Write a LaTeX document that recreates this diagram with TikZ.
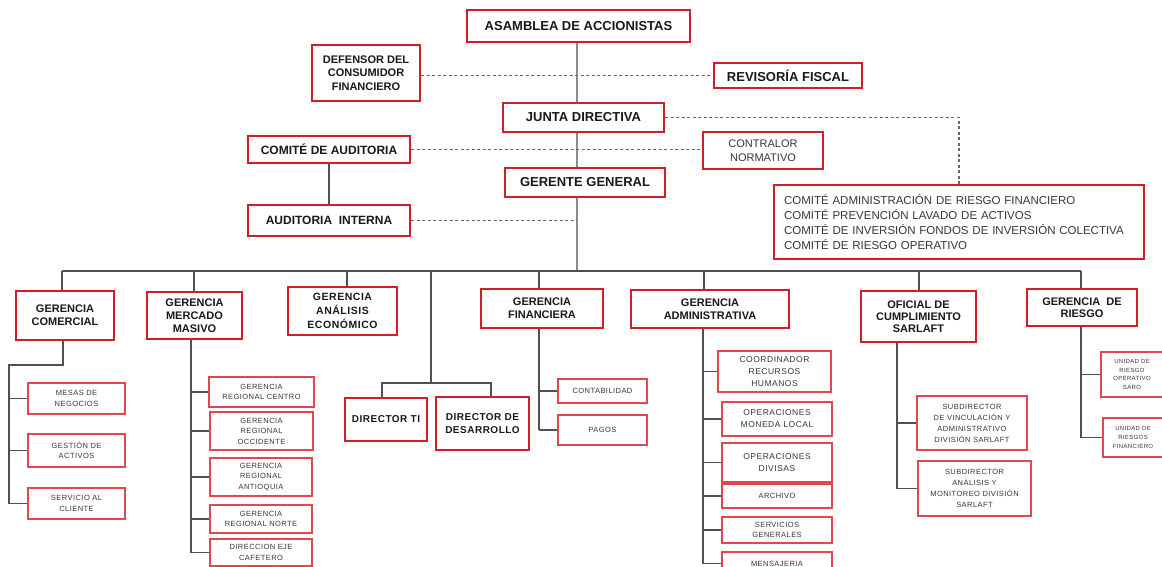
\documentclass[tikz,border=0pt]{standalone}
\usepackage{fontspec}
\setmainfont{Liberation Sans}
\newfontfamily\spacedfont[LetterSpace=6]{Liberation Sans}
\newfontfamily\spacedbold[LetterSpace=5]{Liberation Sans Bold}
\definecolor{boxred}{RGB}{210,30,40}
\definecolor{boxredl}{RGB}{222,72,78}
\definecolor{linegray}{RGB}{80,80,80}
\definecolor{dashgray}{RGB}{105,105,105}
\definecolor{txt}{RGB}{25,25,25}
\definecolor{subtxt}{RGB}{55,55,55}
\pgfdeclarelayer{bg}
\pgfsetlayers{bg,main}
\tikzset{
  sz/.style 2 args={minimum width=#1pt, minimum height=#2pt},
  box/.style={draw=boxred, line width=2.2pt, fill=white, inner sep=0pt, align=center, text=txt},
  subbox/.style={draw=boxredl, line width=1.6pt, fill=white, inner sep=0pt, align=center, text=subtxt},
  conn/.style={draw=linegray, line width=1.2pt},
  dconn/.style={draw=dashgray, line width=1.1pt, dash pattern=on 3pt off 2.5pt},
  topfont/.style={font=\fontsize{13}{15}\selectfont\bfseries},
  midfont/.style={font=\fontsize{11}{13}\selectfont\bfseries},
  dirfont/.style={font=\fontsize{10}{13}\spacedbold},
  subfont/.style={font=\fontsize{7.5}{10.5}\spacedfont},
  admfont/.style={font=\fontsize{8.5}{12}\spacedfont},
  tinyfont/.style={font=\fontsize{6}{8.7}\spacedfont},
}
\begin{document}
\begin{tikzpicture}[x=1pt,y=-1pt]
\useasboundingbox (0,0) rectangle (1162,567);
\begin{pgfonlayer}{bg}
\fill[white] (0,0) rectangle (1162,567);
\end{pgfonlayer}
% top level
\node[box, sz={223}{32}, topfont] (asamblea) at (578.5,26) {ASAMBLEA DE ACCIONISTAS};
\node[box, sz={108}{56}, font=\fontsize{11}{13.5}\selectfont\bfseries] (defensor) at (366,73) {DEFENSOR DEL\\CONSUMIDOR\\FINANCIERO};
\node[box, sz={148}{25}, topfont] (revisoria) at (788,75.5) {REVISORÍA FISCAL};
\node[box, sz={161}{29}, topfont] (junta) at (583.5,117.5) {JUNTA DIRECTIVA};
\node[box, sz={162}{27}, font=\fontsize{12}{14}\selectfont\bfseries] (comaud) at (329,149.5) {COMITÉ DE AUDITORIA};
\node[box, line width=1.8pt, sz={120}{37}, font=\fontsize{11}{14}\selectfont, text=subtxt] (contralor) at (763,150.5) {CONTRALOR\\NORMATIVO};
\node[box, sz={160}{29}, topfont] (gerente) at (585,182.5) {GERENTE GENERAL};
\node[box, line width=1.8pt, sz={370}{74}, text width=350pt, align=left, font=\fontsize{11.5}{15}\selectfont, text=subtxt] (comites) at (959,222) {COMITÉ ADMINISTRACIÓN DE RIESGO FINANCIERO\\COMITÉ PREVENCIÓN LAVADO DE ACTIVOS\\COMITÉ DE INVERSIÓN FONDOS DE INVERSIÓN COLECTIVA\\COMITÉ DE RIESGO OPERATIVO};
\node[box, sz={162}{31}, font=\fontsize{12}{14}\selectfont\bfseries] (audint) at (329,220.5) {AUDITORIA\ \ INTERNA};
% second row
\node[box, sz={98}{49}, midfont] (comercial) at (65,315.5) {GERENCIA\\COMERCIAL};
\node[box, sz={95}{47}, midfont] (mercado) at (194.5,315.5) {GERENCIA\\MERCADO\\MASIVO};
\node[box, sz={109}{48}, font=\fontsize{10.5}{14}\spacedbold] (analisis) at (342.5,311) {GERENCIA\\ANÁLISIS\\ECONÓMICO};
\node[box, sz={122}{39}, midfont] (financiera) at (542,308.5) {GERENCIA\\FINANCIERA};
\node[box, sz={158}{38}, midfont] (administrativa) at (710,309) {GERENCIA\\ADMINISTRATIVA};
\node[box, sz={115}{51}, font=\fontsize{11}{12}\selectfont\bfseries] (oficial) at (918.5,316.5) {OFICIAL DE\\CUMPLIMIENTO\\SARLAFT};
\node[box, sz={110}{37}, font=\fontsize{11}{12.5}\selectfont\bfseries] (riesgo) at (1082,307.5) {GERENCIA\ \ DE\\RIESGO};
% directors
\node[box, sz={82}{43}, dirfont] (dirti) at (386,419.5) {DIRECTOR TI};
\node[box, sz={93}{53}, dirfont] (dirdes) at (482.5,423.5) {DIRECTOR DE\\DESARROLLO};
% comercial subs
\node[subbox, sz={97}{31}, subfont] (mesas) at (76.5,398.5) {MESAS DE\\NEGOCIOS};
\node[subbox, sz={97}{33}, subfont] (gestion) at (76.5,450.5) {GESTIÓN DE\\ACTIVOS};
\node[subbox, sz={97}{31}, subfont] (servicio) at (76.5,503.5) {SERVICIO AL\\CLIENTE};
% mercado subs
\node[subbox, sz={105}{30}, subfont] (grc) at (261.5,392) {GERENCIA\\REGIONAL CENTRO};
\node[subbox, sz={103}{38}, subfont] (gro) at (261.5,431) {GERENCIA\\REGIONAL\\OCCIDENTE};
\node[subbox, sz={102}{38}, subfont] (gra) at (261,477) {GERENCIA\\REGIONAL\\ANTIOQUIA};
\node[subbox, sz={102}{28}, subfont] (grn) at (261,519) {GERENCIA\\REGIONAL NORTE};
\node[subbox, sz={102}{27}, subfont] (dec) at (261,552.5) {DIRECCION EJE\\CAFETERO};
% financiera subs
\node[subbox, sz={89}{24}, subfont] (contab) at (602.5,391) {CONTABILIDAD};
\node[subbox, sz={89}{30}, subfont] (pagos) at (602.5,430) {PAGOS};
% administrativa subs
\node[subbox, sz={113}{41}, admfont] (coord) at (774.5,371.5) {COORDINADOR\\RECURSOS\\HUMANOS};
\node[subbox, sz={110}{34}, admfont] (opml) at (777,419) {OPERACIONES\\MONEDA LOCAL};
\node[subbox, sz={110}{39}, admfont] (opdiv) at (777,462.5) {OPERACIONES\\DIVISAS};
\node[subbox, sz={110}{24}, subfont] (archivo) at (777,496) {ARCHIVO};
\node[subbox, sz={110}{26}, subfont] (servgen) at (777,530) {SERVICIOS\\GENERALES};
\node[subbox, sz={110}{23}, subfont] (mensaj) at (777,563.5) {MENSAJERIA};
% oficial subs
\node[subbox, sz={110}{54}, font=\fontsize{7.5}{11}\spacedfont] (subvin) at (972,423) {SUBDIRECTOR\\DE VINCULACIÓN Y\\ADMINISTRATIVO\\DIVISIÓN SARLAFT};
\node[subbox, sz={113}{55}, font=\fontsize{7.5}{11}\spacedfont] (subana) at (974.5,488.5) {SUBDIRECTOR\\ANÁLISIS Y\\MONITOREO DIVISIÓN\\SARLAFT};
% riesgo subs
\node[subbox, sz={62}{45}, tinyfont] (uro) at (1132,374.5) {UNIDAD DE\\RIESGO\\OPERATIVO\\SARO};
\node[subbox, sz={60}{39}, tinyfont] (urf) at (1133,437.5) {UNIDAD DE\\RIESGOS\\FINANCIERO};
% coordinates
\coordinate (bt) at (577,271);
\coordinate (b1) at (62,271);
\coordinate (b2) at (194,271);
\coordinate (b3) at (347,271);
\coordinate (b4) at (431,271);
\coordinate (b5) at (539,271);
\coordinate (b6) at (704,271);
\coordinate (b7) at (919,271);
\coordinate (b8) at (1081,271);
\coordinate (dj) at (431,383);
\coordinate (dl) at (382,383);
\coordinate (dr) at (491,383);
\coordinate (ct1) at (63,365);
\coordinate (ct2) at (9,365);
\coordinate (ct3) at (9,503.5);
\coordinate (mt) at (191,552.5);
\coordinate (ft) at (539,430);
\coordinate (at) at (703,563.5);
\coordinate (ot) at (897,488.5);
\coordinate (rt) at (1081,437.5);
\begin{pgfonlayer}{bg}
% trunk and dashed links
\draw[conn, draw=gray!90] (asamblea.south -| bt) -- (bt);
\draw[dconn] (defensor.east |- revisoria.west) -- (revisoria.west);
\draw[dconn] (junta.east) -- (junta.east -| comites.north) -- (comites.north);
\draw[dconn] (comaud.east) -- (comaud.east -| contralor.west);
\draw[conn] (comaud.south) -- (audint.north);
\draw[dconn] (audint.east) -- (audint.east -| bt);
% bus
\draw[conn] (b1) -- (b8);
\draw[conn] (b1) -- (b1 |- comercial.north);
\draw[conn] (b2) -- (b2 |- mercado.north);
\draw[conn] (b3) -- (b3 |- analisis.north);
\draw[conn] (b5) -- (b5 |- financiera.north);
\draw[conn] (b6) -- (b6 |- administrativa.north);
\draw[conn] (b7) -- (b7 |- oficial.north);
\draw[conn] (b8) -- (b8 |- riesgo.north);
% directors
\draw[conn] (b4) -- (dj);
\draw[conn] (dl |- dirti.north) -- (dl) -- (dr) -- (dr |- dirdes.north);
% comercial
\draw[conn] (comercial.south -| ct1) -- (ct1) -- (ct2) -- (ct3);
\draw[conn] (mesas.west) -- (mesas.west -| ct2);
\draw[conn] (gestion.west) -- (gestion.west -| ct2);
\draw[conn] (servicio.west) -- (servicio.west -| ct2);
% mercado
\draw[conn] (mercado.south -| mt) -- (mt);
\foreach \n in {grc,gro,gra,grn,dec} \draw[conn] (\n.west) -- (\n.west -| mt);
% financiera
\draw[conn] (financiera.south -| ft) -- (ft);
\foreach \n in {contab,pagos} \draw[conn] (\n.west) -- (\n.west -| ft);
% administrativa
\draw[conn] (administrativa.south -| at) -- (at);
\foreach \n in {coord,opml,opdiv,archivo,servgen,mensaj} \draw[conn] (\n.west) -- (\n.west -| at);
% oficial
\draw[conn] (oficial.south -| ot) -- (ot);
\foreach \n in {subvin,subana} \draw[conn] (\n.west) -- (\n.west -| ot);
% riesgo
\draw[conn] (riesgo.south -| rt) -- (rt);
\foreach \n in {uro,urf} \draw[conn] (\n.west) -- (\n.west -| rt);
\end{pgfonlayer}
\end{tikzpicture}
\end{document}
